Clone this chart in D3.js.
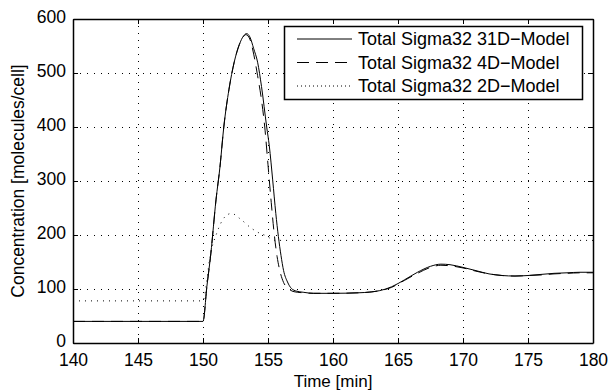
<!DOCTYPE html>
<html>
<head>
<meta charset="utf-8">
<script src="https://cdn.jsdelivr.net/npm/d3@7"></script>
<style>
  body { margin: 0; background: #fff; }
  svg text { font-family: "Liberation Sans", Arial, Helvetica, sans-serif; fill: #000; }
</style>
</head>
<body>
<div id="chart"></div>
<script>
// time [min] and concentration values
const t31 = [140, 150, 150.3, 150.6, 151.0, 151.3, 151.6, 152.0, 152.4, 152.8, 153.1, 153.35, 153.6, 153.9, 154.2, 154.5, 154.9, 155.1, 155.36, 155.6, 155.8, 156.0, 156.2, 156.5, 156.8, 157.2, 157.7, 158.5, 160, 162, 163.6, 164.5, 165.5, 166.5, 167.5, 168.3, 169, 170, 171, 172, 173, 174, 175, 176, 177, 178, 179, 180];
const v31 = [40, 40, 105, 165, 265, 325, 400, 470, 520, 553, 568, 573, 567, 545, 520, 475, 400, 365, 302, 240, 197, 162, 134, 113, 101, 96, 94, 92, 92, 93, 97, 104, 117, 131, 142, 146, 145, 140, 134, 128, 125, 124, 125, 127, 129, 130, 131, 131];

const t4 = [140, 150, 150.3, 150.6, 151.0, 151.3, 151.6, 152.0, 152.4, 152.8, 153.1, 153.3, 153.6, 153.9, 154.2, 154.5, 154.75, 155.0, 155.25, 155.5, 155.7, 155.9, 156.2, 156.56, 157, 157.7, 158.5, 160, 162, 163.6, 164.5, 165.5, 166.5, 167.5, 168.3, 169, 170, 171, 172, 173, 174, 175, 176, 177, 178, 179, 180];
const v4 = [40, 40, 105, 165, 265, 325, 400, 470, 520, 553, 567, 571, 563, 535, 495, 450, 400, 330, 260, 197, 160, 135, 112, 101, 95, 93, 92, 92, 93, 97, 103, 116, 129, 140, 144, 143, 139, 133, 128, 125, 124, 125, 126, 128, 129, 130, 130];

const t2 = [140, 150, 150.15, 150.54, 151.05, 151.7, 152.2, 152.8, 153.75, 154.3, 154.9, 155.3, 155.6, 180];
const v2 = [78, 78, 92, 160, 203, 234, 240, 231, 212, 204, 198, 192, 190, 190];

const xTicks = [140, 145, 150, 155, 160, 165, 170, 175, 180];
const yTicks = [0, 100, 200, 300, 400, 500, 600];
const legendLabels = ["Total Sigma32 31D\u2212Model", "Total Sigma32 4D\u2212Model", "Total Sigma32 2D\u2212Model"];

const W = 611, H = 391;
const margin = {left: 73, right: 18, top: 19, bottom: 48};

const svg = d3.select("#chart").append("svg")
  .attr("width", W)
  .attr("height", H);

const x = d3.scaleLinear().domain([140, 180]).range([margin.left, W - margin.right]);
const y = d3.scaleLinear().domain([0, 600]).range([H - margin.bottom, margin.top]);

// grid
const grid = svg.append("g").attr("stroke", "#000").attr("stroke-width", 1).attr("stroke-dasharray", "1,6");
grid.selectAll(".gx").data(xTicks.slice(1, -1)).enter().append("line")
  .attr("x1", d => Math.round(x(d)) + 0.5).attr("x2", d => Math.round(x(d)) + 0.5)
  .attr("y1", y(600)).attr("y2", y(0));
grid.selectAll(".gy").data(yTicks.slice(1, -1)).enter().append("line")
  .attr("y1", d => Math.round(y(d)) + 0.5).attr("y2", d => Math.round(y(d)) + 0.5)
  .attr("x1", x(140)).attr("x2", x(180));

// series
const line = d3.line().x(d => x(d[0])).y(d => y(d[1])).curve(d3.curveMonotoneX);
const series = [
  {t: t2, v: v2, dash: "1,5"},
  {t: t4, v: v4, dash: "12,7"},
  {t: t31, v: v31, dash: null}
];
svg.append("g").selectAll("path").data(series).enter().append("path")
  .attr("d", d => line(d.t.map((t, i) => [t, d.v[i]])))
  .attr("fill", "none")
  .attr("stroke", "#000")
  .attr("stroke-width", 1)
  .attr("stroke-dasharray", d => d.dash);

// axes with inward ticks on all four sides
const tickLen = 5;
svg.append("g").attr("transform", `translate(0,${y(0)})`)
  .call(d3.axisBottom(x).tickValues(xTicks).tickSizeInner(-tickLen).tickSizeOuter(0).tickPadding(11));
svg.append("g").attr("transform", `translate(0,${y(600)})`)
  .call(d3.axisTop(x).tickValues(xTicks).tickSizeInner(-tickLen).tickSizeOuter(0).tickFormat(""));
svg.append("g").attr("transform", `translate(${x(140)},0)`)
  .call(d3.axisLeft(y).tickValues(yTicks).tickSizeInner(-tickLen).tickSizeOuter(0).tickPadding(7))
  .selectAll("text").attr("dy", "0.2em");
svg.append("g").attr("transform", `translate(${x(180)},0)`)
  .call(d3.axisRight(y).tickValues(yTicks).tickSizeInner(-tickLen).tickSizeOuter(0).tickFormat(""));

svg.selectAll(".domain").attr("stroke", "#000").attr("stroke-width", 1.5);
svg.selectAll(".tick line").attr("stroke", "#000");
svg.selectAll(".tick text").attr("font-size", 17.5).attr("fill", "#000")
  .style("font-family", "'Liberation Sans', Arial, sans-serif");

// axis labels
svg.append("text")
  .attr("x", (x(140) + x(180)) / 2).attr("y", 387)
  .attr("text-anchor", "middle").attr("font-size", 17)
  .text("Time [min]");
svg.append("text")
  .attr("transform", `translate(24,${(y(0) + y(600)) / 2}) rotate(-90)`)
  .attr("text-anchor", "middle").attr("font-size", 17.5)
  .text("Concentration [molecules/cell]");

// legend
const lg = svg.append("g");
lg.append("rect")
  .attr("x", 284.5).attr("y", 26.5).attr("width", 298).attr("height", 73)
  .attr("fill", "#fff").attr("stroke", "#000").attr("stroke-width", 1.5);
const legendDash = [null, "12,7", "1,3"];
legendLabels.forEach((lab, i) => {
  const ly = 39 + i * 23.5;
  lg.append("line")
    .attr("x1", 297).attr("x2", 352).attr("y1", ly).attr("y2", ly)
    .attr("stroke", "#000").attr("stroke-width", 1)
    .attr("stroke-dasharray", legendDash[i]);
  lg.append("text")
    .attr("x", 358).attr("y", ly + 6)
    .attr("font-size", 18)
    .text(lab);
});
</script>
</body>
</html>
